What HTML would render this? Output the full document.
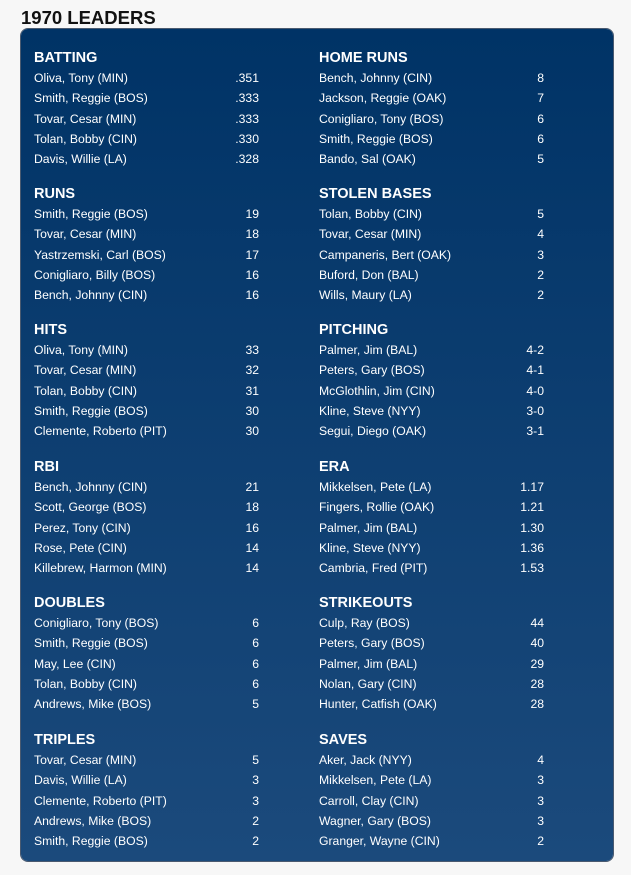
<!DOCTYPE html>
<html><head><meta charset="utf-8"><style>
body{margin:0;width:631px;height:875px;background:#f7f7f7;font-family:"Segoe UI","Liberation Sans",sans-serif;position:relative;overflow:hidden}
h1{position:absolute;left:21px;top:6px;margin:0;font-size:18.5px;font-weight:bold;color:#111;line-height:24px}
.panel{position:absolute;left:21px;top:29px;width:592px;height:832px;border-radius:7px;background:linear-gradient(#003366,#1b4a7c);box-shadow:0 0 0 1px #4a5a70}
.s{position:absolute;width:225px;color:#fff;font-size:12.2px;margin-top:2px}
.s h2{margin:0;font-size:14.5px;font-weight:bold;height:20px;line-height:20px}
.r{height:20.3px;line-height:20.3px;display:flex;justify-content:space-between;white-space:nowrap}
.L{left:34px}.R{left:319px}
</style></head><body>
<h1>1970 LEADERS</h1>
<div class="panel"></div>
<div class="s L" style="top:46px"><h2>BATTING</h2>
<div class="r"><span>Oliva, Tony (MIN)</span><span>.351</span></div>
<div class="r"><span>Smith, Reggie (BOS)</span><span>.333</span></div>
<div class="r"><span>Tovar, Cesar (MIN)</span><span>.333</span></div>
<div class="r"><span>Tolan, Bobby (CIN)</span><span>.330</span></div>
<div class="r"><span>Davis, Willie (LA)</span><span>.328</span></div></div>
<div class="s R" style="top:46px"><h2>HOME RUNS</h2>
<div class="r"><span>Bench, Johnny (CIN)</span><span>8</span></div>
<div class="r"><span>Jackson, Reggie (OAK)</span><span>7</span></div>
<div class="r"><span>Conigliaro, Tony (BOS)</span><span>6</span></div>
<div class="r"><span>Smith, Reggie (BOS)</span><span>6</span></div>
<div class="r"><span>Bando, Sal (OAK)</span><span>5</span></div></div>
<div class="s L" style="top:182px"><h2>RUNS</h2>
<div class="r"><span>Smith, Reggie (BOS)</span><span>19</span></div>
<div class="r"><span>Tovar, Cesar (MIN)</span><span>18</span></div>
<div class="r"><span>Yastrzemski, Carl (BOS)</span><span>17</span></div>
<div class="r"><span>Conigliaro, Billy (BOS)</span><span>16</span></div>
<div class="r"><span>Bench, Johnny (CIN)</span><span>16</span></div></div>
<div class="s R" style="top:182px"><h2>STOLEN BASES</h2>
<div class="r"><span>Tolan, Bobby (CIN)</span><span>5</span></div>
<div class="r"><span>Tovar, Cesar (MIN)</span><span>4</span></div>
<div class="r"><span>Campaneris, Bert (OAK)</span><span>3</span></div>
<div class="r"><span>Buford, Don (BAL)</span><span>2</span></div>
<div class="r"><span>Wills, Maury (LA)</span><span>2</span></div></div>
<div class="s L" style="top:318px"><h2>HITS</h2>
<div class="r"><span>Oliva, Tony (MIN)</span><span>33</span></div>
<div class="r"><span>Tovar, Cesar (MIN)</span><span>32</span></div>
<div class="r"><span>Tolan, Bobby (CIN)</span><span>31</span></div>
<div class="r"><span>Smith, Reggie (BOS)</span><span>30</span></div>
<div class="r"><span>Clemente, Roberto (PIT)</span><span>30</span></div></div>
<div class="s R" style="top:318px"><h2>PITCHING</h2>
<div class="r"><span>Palmer, Jim (BAL)</span><span>4-2</span></div>
<div class="r"><span>Peters, Gary (BOS)</span><span>4-1</span></div>
<div class="r"><span>McGlothlin, Jim (CIN)</span><span>4-0</span></div>
<div class="r"><span>Kline, Steve (NYY)</span><span>3-0</span></div>
<div class="r"><span>Segui, Diego (OAK)</span><span>3-1</span></div></div>
<div class="s L" style="top:455px"><h2>RBI</h2>
<div class="r"><span>Bench, Johnny (CIN)</span><span>21</span></div>
<div class="r"><span>Scott, George (BOS)</span><span>18</span></div>
<div class="r"><span>Perez, Tony (CIN)</span><span>16</span></div>
<div class="r"><span>Rose, Pete (CIN)</span><span>14</span></div>
<div class="r"><span>Killebrew, Harmon (MIN)</span><span>14</span></div></div>
<div class="s R" style="top:455px"><h2>ERA</h2>
<div class="r"><span>Mikkelsen, Pete (LA)</span><span>1.17</span></div>
<div class="r"><span>Fingers, Rollie (OAK)</span><span>1.21</span></div>
<div class="r"><span>Palmer, Jim (BAL)</span><span>1.30</span></div>
<div class="r"><span>Kline, Steve (NYY)</span><span>1.36</span></div>
<div class="r"><span>Cambria, Fred (PIT)</span><span>1.53</span></div></div>
<div class="s L" style="top:591px"><h2>DOUBLES</h2>
<div class="r"><span>Conigliaro, Tony (BOS)</span><span>6</span></div>
<div class="r"><span>Smith, Reggie (BOS)</span><span>6</span></div>
<div class="r"><span>May, Lee (CIN)</span><span>6</span></div>
<div class="r"><span>Tolan, Bobby (CIN)</span><span>6</span></div>
<div class="r"><span>Andrews, Mike (BOS)</span><span>5</span></div></div>
<div class="s R" style="top:591px"><h2>STRIKEOUTS</h2>
<div class="r"><span>Culp, Ray (BOS)</span><span>44</span></div>
<div class="r"><span>Peters, Gary (BOS)</span><span>40</span></div>
<div class="r"><span>Palmer, Jim (BAL)</span><span>29</span></div>
<div class="r"><span>Nolan, Gary (CIN)</span><span>28</span></div>
<div class="r"><span>Hunter, Catfish (OAK)</span><span>28</span></div></div>
<div class="s L" style="top:728px"><h2>TRIPLES</h2>
<div class="r"><span>Tovar, Cesar (MIN)</span><span>5</span></div>
<div class="r"><span>Davis, Willie (LA)</span><span>3</span></div>
<div class="r"><span>Clemente, Roberto (PIT)</span><span>3</span></div>
<div class="r"><span>Andrews, Mike (BOS)</span><span>2</span></div>
<div class="r"><span>Smith, Reggie (BOS)</span><span>2</span></div></div>
<div class="s R" style="top:728px"><h2>SAVES</h2>
<div class="r"><span>Aker, Jack (NYY)</span><span>4</span></div>
<div class="r"><span>Mikkelsen, Pete (LA)</span><span>3</span></div>
<div class="r"><span>Carroll, Clay (CIN)</span><span>3</span></div>
<div class="r"><span>Wagner, Gary (BOS)</span><span>3</span></div>
<div class="r"><span>Granger, Wayne (CIN)</span><span>2</span></div></div>
</body></html>
